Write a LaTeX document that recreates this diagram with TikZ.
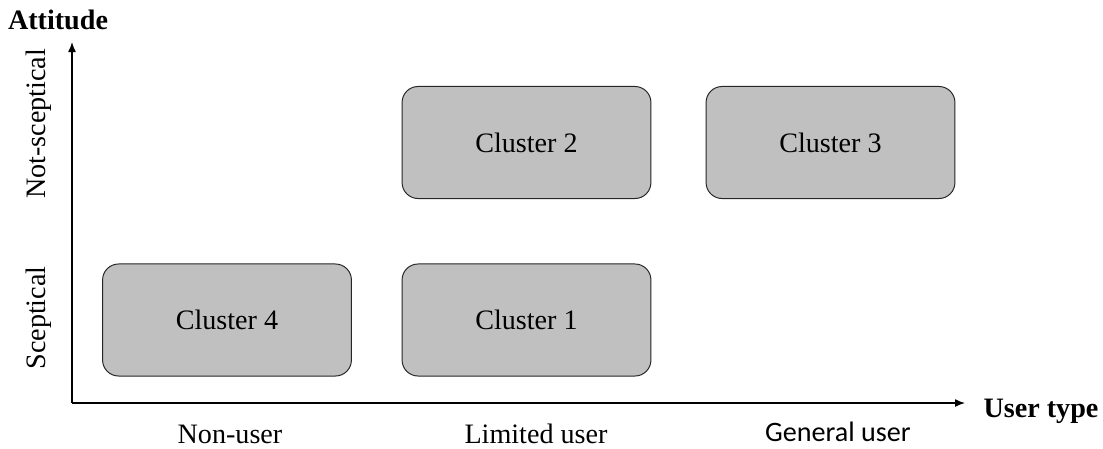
\documentclass[tikz,border=0pt]{standalone}
\usepackage{fontspec}
\setmainfont{Liberation Serif}
\newfontfamily\calfont{Carlito}
\usepackage{tikz}
\usetikzlibrary{arrows.meta}

\definecolor{ClusterGray}{HTML}{C0C0C0}
\tikzset{
	cluster/.style={draw=black!85, fill=ClusterGray, line width=0.7pt, rounded corners=0.4cm,
		minimum width=6.22cm, minimum height=2.8cm, inner sep=0pt},
	axislabel/.style={font=\fontsize{20}{24}\selectfont\bfseries, inner sep=0pt},
	ticklabel/.style={font=\fontsize{20}{24}\selectfont, inner sep=0pt}
}

\begin{document}
\begin{tikzpicture}[x=0.025cm, y=-0.025cm, font=\fontsize{20}{24}\selectfont]
					
					\useasboundingbox (0,0) rectangle (1103,448);
					
					% axes
					\coordinate (origin) at (72,403);
					\coordinate (ytip) at (72,42);
					\coordinate (xtip) at (965,403);
					\draw [->, >={Latex[length=0.25cm,width=0.2cm]}, line width=1pt] (origin) -- (ytip);
					\draw [->, >={Latex[length=0.25cm,width=0.2cm]}, line width=1pt] (origin) -- (xtip);
					
					\node [axislabel] (attitude) at (58,20) {Attitude};
					\node [axislabel] (usertype) at (1041,411) {User type};
					
					\node [ticklabel, rotate=90] (notsc) at (39,124) {Not-sceptical};
					\node [ticklabel, rotate=90] (sc) at (39,318) {Sceptical};
					
					\node [ticklabel] (nonuser) at (230,434) {Non-user};
					\node [ticklabel] (limited) at (536,434) {Limited user};
					\node [ticklabel, font=\fontsize{20}{24}\calfont] (general) at (838,432) {General user};
					
					% clusters
					\node [cluster] (c4) at (227,320) {Cluster 4};
					\node [cluster] (c1) at (526.5,320) {Cluster 1};
					\node [cluster] (c2) at (526.5,142.5) {Cluster 2};
					\node [cluster] (c3) at (830.5,142.5) {Cluster 3};
					
				\end{tikzpicture}
\end{document}
